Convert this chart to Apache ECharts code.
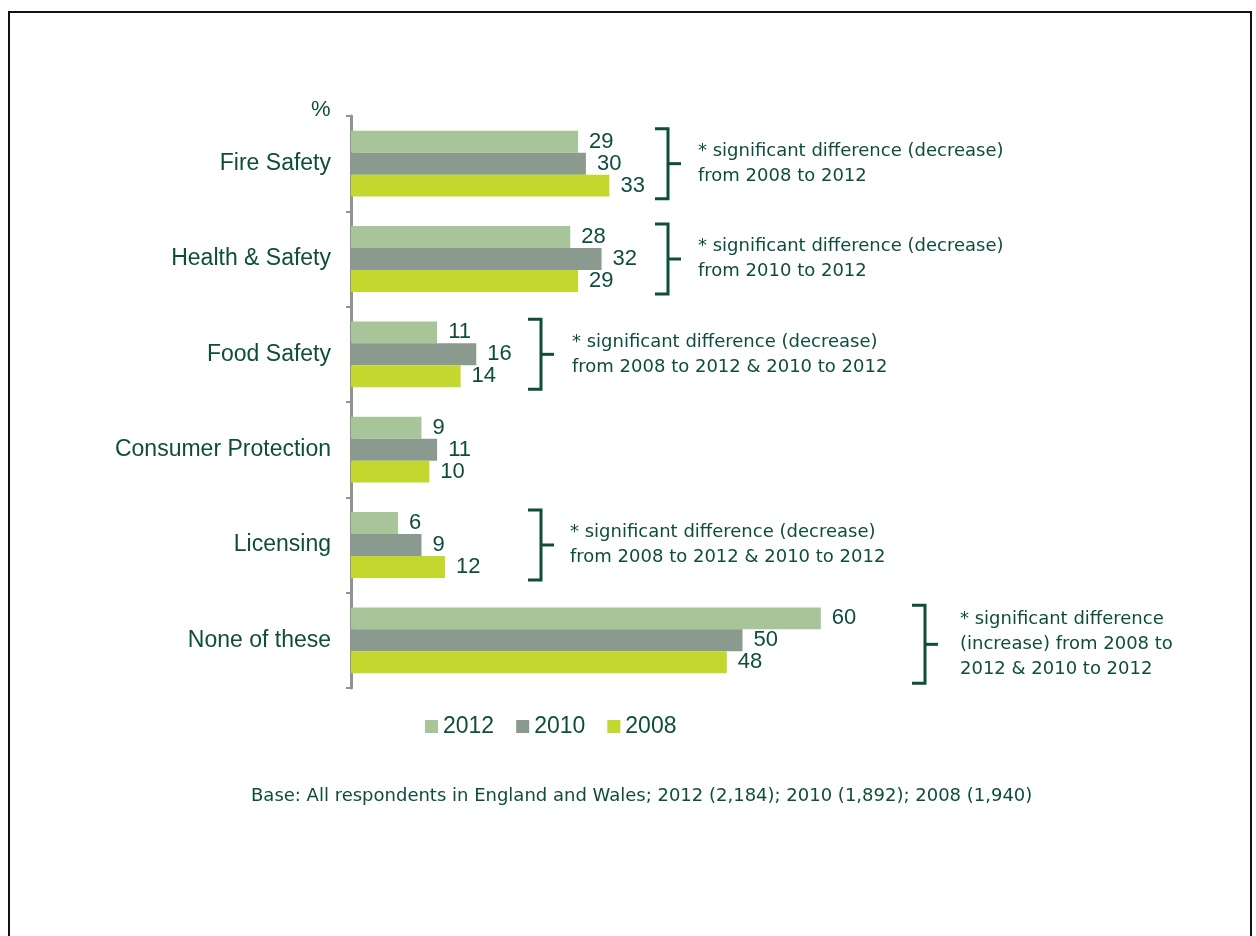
<!DOCTYPE html>
<html>
<head>
<meta charset="utf-8">
<script src="https://cdn.jsdelivr.net/npm/echarts@6/dist/echarts.min.js"></script>
<style>
  html, body { margin: 0; padding: 0; background: #fff; }
  #chart { width: 1256px; height: 936px; }
</style>
</head>
<body>
<div id="chart"></div>
<script>
// 数据
var categories = ['Fire Safety', 'Health & Safety', 'Food Safety', 'Consumer Protection', 'Licensing', 'None of these']
var years = ['2012', '2010', '2008']
var values2012 = [29, 28, 11, 9, 6, 60]
var values2010 = [30, 32, 16, 11, 9, 50]
var values2008 = [33, 29, 14, 10, 12, 48]
// 注释（类别、文字）
var noteCategories = ['Fire Safety', 'Health & Safety', 'Food Safety', 'Licensing', 'None of these']
var noteTexts = [
  '* significant difference (decrease)\nfrom 2008 to 2012',
  '* significant difference (decrease)\nfrom 2010 to 2012',
  '* significant difference (decrease)\nfrom 2008 to 2012 & 2010 to 2012',
  '* significant difference (decrease)\nfrom 2008 to 2012 & 2010 to 2012',
  '* significant difference\n(increase) from 2008 to\n2012 & 2010 to 2012'
]

var textColor = '#0e4d3c'
var font = '"Liberation Sans", Arial, sans-serif'
var noteFont = '"DejaVu Sans", sans-serif'
var colors = ['#a8c499', '#8a9a8e', '#c3d82e']

var chart = echarts.init(document.getElementById('chart'))

function barSeries(name, data, color) {
  return {
    name: name,
    type: 'bar',
    data: data,
    barGap: 0,
    barCategoryGap: '31%',
    itemStyle: { color: color },
    label: {
      show: true,
      position: 'right',
      distance: 11,
      color: textColor,
      fontSize: 22,
      fontFamily: font
    }
  }
}

chart.setOption({
  animation: false,
  grid: { left: 351, right: 122, top: 116, bottom: 248 },
  legend: {
    data: years,
    left: 420,
    top: 710,
    itemWidth: 13,
    itemHeight: 13,
    itemGap: 22,
    icon: 'rect',
    textStyle: { color: textColor, fontSize: 23, fontFamily: font }
  },
  xAxis: {
    type: 'value',
    min: 0,
    max: 100,
    show: false
  },
  yAxis: {
    type: 'category',
    inverse: true,
    data: categories,
    axisLine: { lineStyle: { color: '#8a9690', width: 3 } },
    axisTick: { show: true, length: 5, lineStyle: { color: '#8a9690', width: 2 } },
    axisLabel: { margin: 20, color: textColor, fontSize: 23, fontFamily: font }
  },
  series: [
    barSeries('2012', values2012, colors[0]),
    barSeries('2010', values2010, colors[1]),
    barSeries('2008', values2008, colors[2])
  ]
})

// 括号的水平位置（像素）
var bracketX = [668, 668, 541, 541, 925]
var textGap = [30, 30, 31, 29, 35]
var graphics = [
  {
    type: 'rect',
    shape: { x: 9, y: 12, width: 1242, height: 1000 },
    style: { fill: 'none', stroke: '#111', lineWidth: 2 },
    silent: true
  },
  {
    type: 'text',
    left: 311, top: 99,
    style: { text: '%', fill: textColor, fontSize: 22, fontFamily: font }
  },
  {
    type: 'text',
    left: 251, top: 787,
    style: {
      text: 'Base: All respondents in England and Wales; 2012 (2,184); 2010 (1,892); 2008 (1,940)',
      fill: textColor, fontSize: 18, fontFamily: noteFont
    }
  }
]
noteCategories.forEach(function (cat, i) {
  var cy = chart.convertToPixel({ yAxisIndex: 0 }, cat)
  var x = bracketX[i]
  var lines = noteTexts[i].split('\n').length
  var half = lines > 2 ? 39 : 35
  if (lines > 2) cy += 4
  graphics.push({
    type: 'polyline',
    shape: { points: [[x - 13, cy - half], [x, cy - half], [x, cy + half], [x - 13, cy + half]] },
    style: { stroke: textColor, lineWidth: 3, fill: null }
  })
  graphics.push({
    type: 'line',
    shape: { x1: x, y1: cy, x2: x + 13, y2: cy },
    style: { stroke: textColor, lineWidth: 3 }
  })
  graphics.push({
    type: 'text',
    x: x + textGap[i],
    y: cy,
    style: {
      text: noteTexts[i],
      fill: textColor,
      fontSize: 18,
      lineHeight: 25,
      fontFamily: noteFont,
      verticalAlign: 'middle'
    }
  })
})
chart.setOption({ graphic: graphics })
</script>
</body>
</html>
